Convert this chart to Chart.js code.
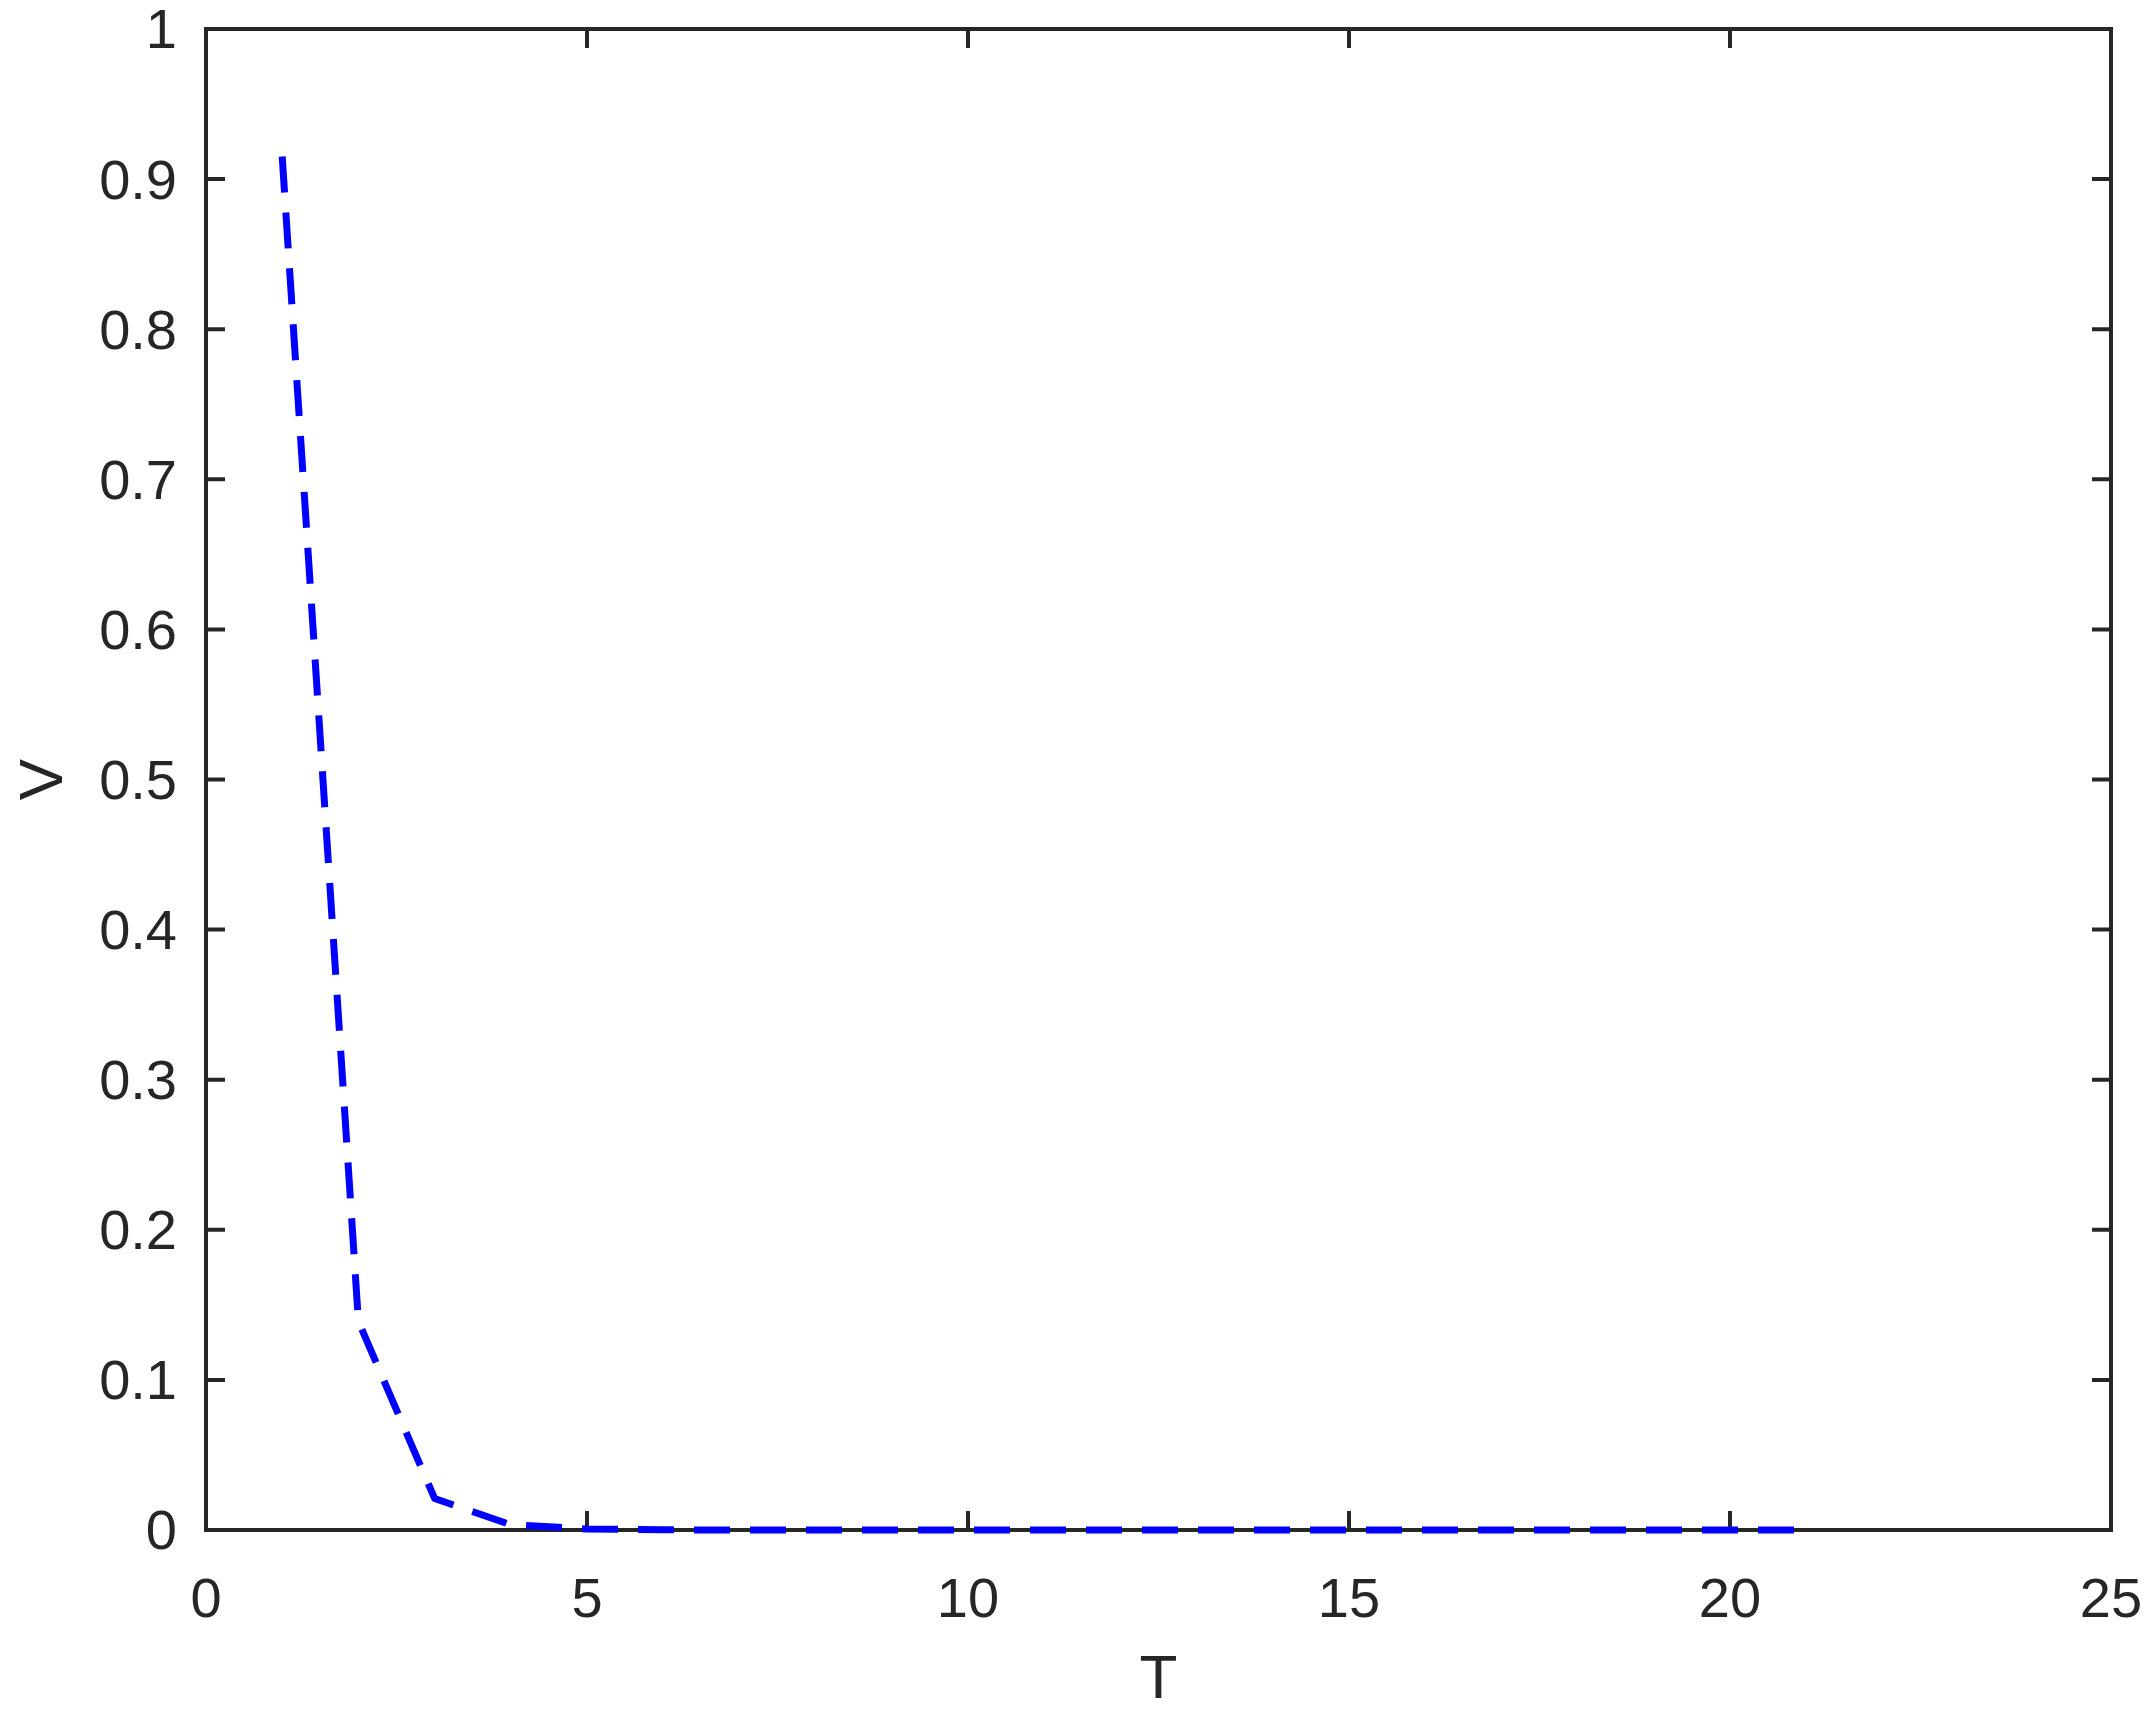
<!DOCTYPE html>
<html>
<head>
<meta charset="utf-8">
<script src="https://cdn.jsdelivr.net/npm/chart.js@4.4.1/dist/chart.umd.min.js"></script>
<style>
  html, body { margin: 0; padding: 0; background: #ffffff; }
  #wrap { width: 2153px; height: 1728px; }
</style>
</head>
<body>
<div id="wrap"><canvas id="c" width="2153" height="1728"></canvas></div>
<script>
// ---- data ----
const T = [1, 2, 3, 4, 5, 6, 7, 8, 9, 10, 11, 12, 13, 14, 15, 16, 17, 18, 19, 20, 21];
const V = [0.915, 0.139, 0.021, 0.0035, 0.0007, 0.0001, 0, 0, 0, 0, 0, 0, 0, 0, 0, 0, 0, 0, 0, 0, 0];
const xTickValues = [0, 5, 10, 15, 20, 25];
const xTickLabels = ['0', '5', '10', '15', '20', '25'];
const yTickValues = [0, 0.1, 0.2, 0.3, 0.4, 0.5, 0.6, 0.7, 0.8, 0.9, 1];
const yTickLabels = ['0', '0.1', '0.2', '0.3', '0.4', '0.5', '0.6', '0.7', '0.8', '0.9', '1'];
const xTitle = 'T';
const yTitle = 'V';

const axisColor = '#262626';
const FONT = '"Liberation Sans", Arial, Helvetica, sans-serif';

const points = T.map((t, i) => ({ x: t, y: V[i] }));

function labelFor(values, labels, v) {
  for (let i = 0; i < values.length; i++) {
    if (Math.abs(values[i] - v) < 1e-9) return labels[i];
  }
  return '';
}

function zeroPad(s) {
  s.paddingTop = 0; s.paddingBottom = 0; s.paddingLeft = 0; s.paddingRight = 0;
}

// frame + inward ticks on all four sides (MATLAB box style)
const framePlugin = {
  id: 'frame',
  beforeDatasetsDraw(chart) {
    const { ctx, chartArea: a, scales } = chart;
    const tl = 19;
    ctx.save();
    ctx.strokeStyle = axisColor;
    ctx.lineWidth = 4;
    ctx.lineCap = 'butt';
    ctx.beginPath();
    xTickValues.forEach(v => {
      const px = scales.x.getPixelForValue(v);
      ctx.moveTo(px, a.bottom); ctx.lineTo(px, a.bottom - tl);
      ctx.moveTo(px, a.top); ctx.lineTo(px, a.top + tl);
    });
    yTickValues.forEach(v => {
      const py = scales.y.getPixelForValue(v);
      ctx.moveTo(a.left, py); ctx.lineTo(a.left + tl, py);
      ctx.moveTo(a.right, py); ctx.lineTo(a.right - tl, py);
    });
    ctx.stroke();
    ctx.lineJoin = 'miter';
    ctx.strokeRect(a.left, a.top, a.right - a.left, a.bottom - a.top);
    ctx.restore();
  }
};

new Chart(document.getElementById('c'), {
  type: 'line',
  data: {
    datasets: [{
      data: points,
      borderColor: '#0000ff',
      borderWidth: 7,
      borderDash: [36, 20],
      borderCapStyle: 'butt',
      borderJoinStyle: 'round',
      pointRadius: 0,
      fill: false,
      tension: 0,
      clip: 10
    }]
  },
  options: {
    responsive: false,
    animation: false,
    events: [],
    layout: { padding: { top: 29, right: 42, left: 0, bottom: 0 } },
    plugins: { legend: { display: false }, tooltip: { enabled: false } },
    scales: {
      x: {
        type: 'linear',
        min: 0, max: 25,
        afterFit(s) { s.height = 198; zeroPad(s); },
        afterBuildTicks(s) { s.ticks = xTickValues.map(v => ({ value: v })); },
        grid: { display: false, drawTicks: false },
        border: { display: false },
        ticks: {
          color: axisColor,
          font: { family: FONT, size: 56 },
          padding: 38,
          maxRotation: 0,
          autoSkip: false,
          callback: v => labelFor(xTickValues, xTickLabels, v)
        },
        title: {
          display: true,
          text: xTitle,
          color: axisColor,
          font: { family: FONT, size: 62 },
          padding: { top: 0, bottom: 10 }
        }
      },
      y: {
        type: 'linear',
        min: 0, max: 1,
        afterFit(s) { s.width = 206; zeroPad(s); },
        afterBuildTicks(s) { s.ticks = yTickValues.map(v => ({ value: v })); },
        grid: { display: false, drawTicks: false },
        border: { display: false },
        ticks: {
          color: axisColor,
          font: { family: FONT, size: 56 },
          padding: 29,
          labelOffset: 4,
          autoSkip: false,
          callback: v => labelFor(yTickValues, yTickLabels, v)
        },
        title: {
          display: true,
          text: yTitle,
          color: axisColor,
          font: { family: FONT, size: 62 },
          padding: { top: 8, bottom: 0 }
        }
      }
    }
  },
  plugins: [framePlugin]
});
</script>
</body>
</html>
